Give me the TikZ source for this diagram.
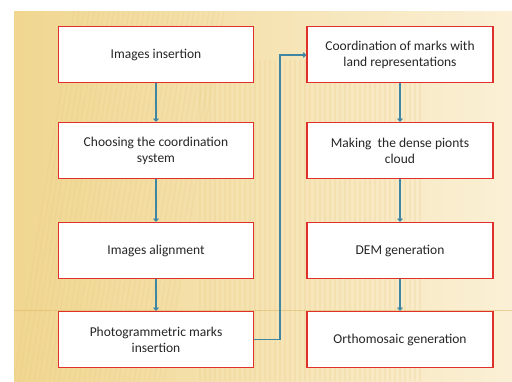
\documentclass[tikz,border=0pt]{standalone}
\usepackage{fontspec}
\setmainfont{Carlito}
\usetikzlibrary{arrows.meta}
\definecolor{bgL}{HTML}{F0D690}
\definecolor{bgR}{HTML}{FBF0D6}
\definecolor{boxred}{HTML}{E0302C}
\definecolor{conn}{HTML}{3F86A3}
\definecolor{stripe}{HTML}{E8C778}
\tikzset{
  stepbox/.style={draw=boxred, line width=1.6pt, fill=white, minimum width=195pt, minimum height=56pt, align=center, font=\fontsize{13.5}{16}\selectfont, text=black!85, inner sep=2pt},
  stepboxR/.style={stepbox, minimum width=186pt},
  conline/.style={draw=conn, line width=1.1pt, -{To[length=3.5pt,width=5.5pt]}}
}
\begin{document}
\begin{tikzpicture}[x=1pt,y=-1pt]
\useasboundingbox (0,0) rectangle (512,381);
\fill[white] (0,0) rectangle (512,381);
\shade[left color=bgL, right color=bgR] (14,11) rectangle (512,381);
% stripes
\begin{scope}
\clip (14,11) rectangle (512,381);
\foreach \i in {0,5,...,150}{
  \draw[stripe, opacity=0.2, line width=1.2pt] (14+\i,381) -- (14+\i+60,11);
}
\foreach \i in {200,205,...,420}{
  \draw[stripe, opacity=0.18, line width=1.2pt] (\i,381) -- (\i,60);
}
\end{scope}
\draw[stripe!80!brown, line width=0.6pt, opacity=0.6] (14,310) -- (512,310);
% nodes
\node[stepbox] (a) at (156,54.5) {Images insertion};
\node[stepbox] (b) at (156,150.5) {Choosing the coordination\\system};
\node[stepbox] (c) at (156,250.5) {Images alignment};
\node[stepbox] (d) at (156,339.5) {Photogrammetric marks\\insertion};
\node[stepboxR] (e) at (400,54.5) {Coordination of marks with\\land representations};
\node[stepboxR] (f) at (400,150.5) {Making\ \ the dense pionts\\cloud};
\node[stepboxR] (g) at (400,250.5) {DEM generation};
\node[stepboxR] (h) at (400,339.5) {Orthomosaic generation};
% connectors
\draw[conline] (a) -- (b);
\draw[conline] (b) -- (c);
\draw[conline] (c) -- (d);
\draw[conline] (d.east) -- (280,339.5) -- (280,55) -- (e.west |- 0,55);
\draw[conline] (e) -- (f);
\draw[conline] (f) -- (g);
\draw[conline] (g) -- (h);
\end{tikzpicture}
\end{document}
